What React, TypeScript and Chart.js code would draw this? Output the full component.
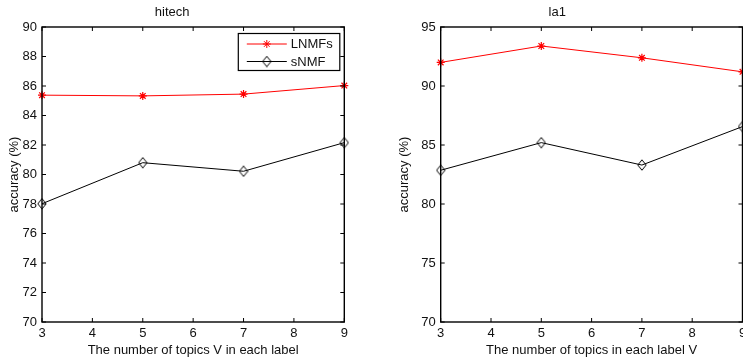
import React, { useEffect, useRef } from 'react';
import { Chart, registerables } from 'chart.js';
import { drawPoint } from 'chart.js/helpers';

Chart.register(...registerables);

// ---- data ----
const topicCounts = [3, 5, 7, 9];
const seriesNames = ['LNMFs', 'sNMF'];
const hitechLNMFs = [85.38, 85.33, 85.45, 86.03];
const hitechSNMF = [78.02, 80.8, 80.22, 82.16];
const la1LNMFs = [92.0, 93.39, 92.39, 91.2];
const la1SNMF = [82.86, 85.2, 83.3, 86.56];
const xTickValues = [3, 4, 5, 6, 7, 8, 9];
const hitechYTicks = [70, 72, 74, 76, 78, 80, 82, 84, 86, 88, 90];
const la1YTicks = [70, 75, 80, 85, 90, 95];

const FONT = "'Liberation Sans', Arial, Helvetica, sans-serif";
const FS = 13;

function makeDiamond(color: string) {
  const c = document.createElement('canvas');
  c.width = 10;
  c.height = 12;
  const g = c.getContext('2d')!;
  g.strokeStyle = color;
  g.lineWidth = 1;
  g.beginPath();
  g.moveTo(5, 0.8);
  g.lineTo(9.2, 6);
  g.lineTo(5, 11.2);
  g.lineTo(0.8, 6);
  g.closePath();
  g.stroke();
  return c;
}

const boxPlugin = {
  id: 'matlabBox',
  afterDraw(chart: any) {
    const { ctx, chartArea: a, scales } = chart;
    const x = scales.x;
    const y = scales.y;
    const L = 4;
    ctx.save();
    ctx.strokeStyle = '#000';
    ctx.lineWidth = 1;
    ctx.beginPath();
    x.ticks.forEach((t: any) => {
      const px = x.getPixelForValue(t.value);
      ctx.moveTo(px, a.bottom);
      ctx.lineTo(px, a.bottom - L);
      ctx.moveTo(px, a.top);
      ctx.lineTo(px, a.top + L);
    });
    y.ticks.forEach((t: any) => {
      const py = y.getPixelForValue(t.value);
      ctx.moveTo(a.left, py);
      ctx.lineTo(a.left + L, py);
      ctx.moveTo(a.right, py);
      ctx.lineTo(a.right - L, py);
    });
    ctx.stroke();
    ctx.lineWidth = 1.4;
    ctx.strokeRect(a.left, a.top, a.right - a.left, a.bottom - a.top);

    const opts = chart.options.plugins.boxLegend;
    if (opts && opts.show) {
      const bx = a.right - 106;
      const by = a.top + 6.5;
      const bw = 101.5;
      const bh = 37;
      ctx.fillStyle = '#fff';
      ctx.fillRect(bx, by, bw, bh);
      ctx.lineWidth = 1.2;
      ctx.strokeRect(bx, by, bw, bh);
      chart.data.datasets.forEach((ds: any, i: number) => {
        const ry = by + 10.5 + i * 17.5;
        const lx0 = bx + 8.5;
        const lx1 = bx + 48.5;
        ctx.strokeStyle = ds.borderColor;
        ctx.lineWidth = 1;
        ctx.beginPath();
        ctx.moveTo(lx0, ry);
        ctx.lineTo(lx1, ry);
        ctx.stroke();
        drawPoint(ctx, {
          pointStyle: ds.pointStyle,
          radius: ds.pointRadius,
          borderWidth: ds.pointBorderWidth,
          rotation: 0,
        } as any, (lx0 + lx1) / 2, ry);
        ctx.fillStyle = '#111';
        ctx.font = `${FS}px ${FONT}`;
        ctx.textBaseline = 'middle';
        ctx.textAlign = 'left';
        ctx.fillText(ds.label, lx1 + 4, ry + 0.5);
      });
    }
    ctx.restore();
  },
};

type PanelProps = {
  title: string;
  xTitle: string;
  lnmf: number[];
  snmf: number[];
  yTicks: number[];
  left: number;
  width: number;
  yAxisWidth: number;
  padRight: number;
  yTitlePad: number;
  legend: boolean;
};

function Panel(p: PanelProps) {
  const ref = useRef<HTMLCanvasElement>(null);
  useEffect(() => {
    const canvas = ref.current!;
    const chart = new Chart(canvas, {
      type: 'line',
      data: {
        datasets: [
          {
            label: seriesNames[0],
            data: topicCounts.map((v, i) => ({ x: v, y: p.lnmf[i] })),
            borderColor: '#ff0000',
            backgroundColor: '#ff0000',
            borderWidth: 1,
            pointStyle: 'star',
            pointRadius: 4,
            pointBorderWidth: 1.2,
            pointBorderColor: '#ff0000',
            clip: false as any,
            tension: 0,
          },
          {
            label: seriesNames[1],
            data: topicCounts.map((v, i) => ({ x: v, y: p.snmf[i] })),
            borderColor: '#000000',
            backgroundColor: 'rgba(0,0,0,0)',
            borderWidth: 1,
            pointStyle: makeDiamond('#000') as any,
            pointRadius: 5,
            pointBorderWidth: 1,
            clip: false as any,
            tension: 0,
          },
        ],
      },
      options: {
        animation: false,
        responsive: false,
        events: [],
        layout: { autoPadding: false, padding: { left: 0, right: p.padRight, top: 0, bottom: 0 } },
        plugins: {
          legend: { display: false },
          tooltip: { enabled: false },
          title: {
            display: true,
            text: p.title,
            color: '#111',
            font: { family: FONT, size: FS, weight: 'normal', lineHeight: 1.2 },
            padding: { top: 4.7, bottom: 6.7 },
          },
          boxLegend: { show: p.legend },
        } as any,
        scales: {
          x: {
            type: 'linear',
            min: 3,
            max: 9,
            afterBuildTicks: (s: any) => {
              s.ticks = xTickValues.map((v) => ({ value: v }));
            },
            afterFit: (s: any) => {
              s.height = 39;
              s.paddingLeft = 0;
              s.paddingRight = 0;
            },
            grid: { display: false, drawTicks: false },
            border: { display: false },
            ticks: {
              color: '#111',
              padding: 4,
              maxRotation: 0,
              autoSkip: false,
              font: { family: FONT, size: FS },
            },
            title: {
              display: true,
              text: p.xTitle,
              color: '#111',
              font: { family: FONT, size: FS, lineHeight: 1.2 },
              padding: { top: 0, bottom: 2.5 },
            },
          },
          y: {
            type: 'linear',
            min: p.yTicks[0],
            max: p.yTicks[p.yTicks.length - 1],
            afterBuildTicks: (s: any) => {
              s.ticks = p.yTicks.map((v) => ({ value: v }));
            },
            afterFit: (s: any) => {
              s.width = p.yAxisWidth;
              s.paddingTop = 0;
              s.paddingBottom = 0;
            },
            grid: { display: false, drawTicks: false },
            border: { display: false },
            ticks: {
              color: '#111',
              padding: 5,
              autoSkip: false,
              font: { family: FONT, size: FS },
            },
            title: {
              display: true,
              text: 'accuracy (%)',
              color: '#111',
              font: { family: FONT, size: FS, lineHeight: 1.2 },
              padding: { top: p.yTitlePad, bottom: 0 },
            },
          },
        },
      },
      plugins: [boxPlugin],
    });
    return () => chart.destroy();
  }, []);
  return (
    <canvas
      ref={ref}
      width={p.width}
      height={361}
      style={{ position: 'absolute', left: p.left, top: 0, width: p.width, height: 361 }}
    />
  );
}

export default function App() {
  return (
    <div style={{ position: 'fixed', left: 0, top: 0, width: 743, height: 361, background: '#fff', overflow: 'hidden' }}>
      <Panel
        title="hitech"
        xTitle="The number of topics V in each label"
        lnmf={hitechLNMFs}
        snmf={hitechSNMF}
        yTicks={hitechYTicks}
        left={0}
        width={372}
        yAxisWidth={42}
        padRight={27.7}
        yTitlePad={6.7}
        legend={true}
      />
      <Panel
        title="la1"
        xTitle="The number of topics in each label V"
        lnmf={la1LNMFs}
        snmf={la1SNMF}
        yTicks={la1YTicks}
        left={372}
        width={371}
        yAxisWidth={68.7}
        padRight={0.5}
        yTitlePad={24.2}
        legend={false}
      />
    </div>
  );
}
